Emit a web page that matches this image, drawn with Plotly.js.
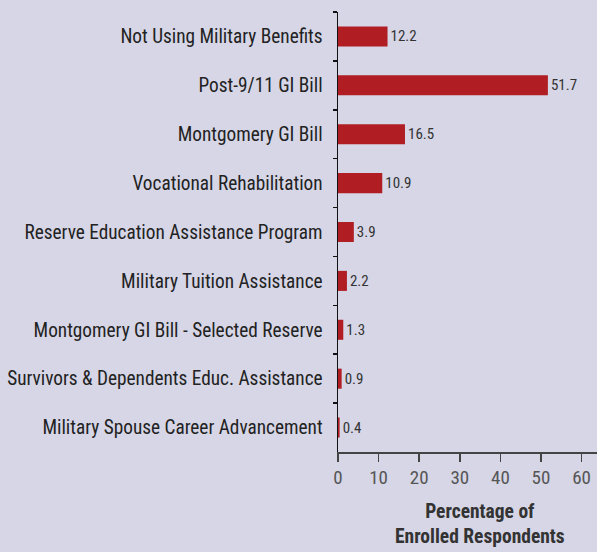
<!DOCTYPE html>
<html><head><meta charset="utf-8">
<script src="https://cdn.plot.ly/plotly-3.0.1.min.js"></script>
<style>body{margin:0;background:#d6d6e6;}</style>
</head><body><div id="chart" style="width:597px;height:552px;"></div>
<script>
const categories = [
  "Not Using Military Benefits",
  "Post-9/11 GI Bill",
  "Montgomery GI Bill",
  "Vocational Rehabilitation",
  "Reserve Education Assistance Program",
  "Military Tuition Assistance",
  "Montgomery GI Bill - Selected Reserve",
  "Survivors & Dependents Educ. Assistance",
  "Military Spouse Career Advancement"
];
const values = [12.2, 51.7, 16.5, 10.9, 3.9, 2.2, 1.3, 0.9, 0.4];
const xTicks = [0, 10, 20, 30, 40, 50, 60];

const font = '"Roboto Condensed", "Liberation Sans Narrow", "Liberation Sans", sans-serif';
const trace = {
  type: 'bar', orientation: 'h',
  y: categories, x: values,
  text: values.map(v => v.toFixed(1)),
  textposition: 'outside', cliponaxis: false,
  textfont: {family: font, size: 15, color: '#333'},
  marker: {color: '#b01e23'},
  hoverinfo: 'none'
};
const layout = {
  width: 597, height: 552,
  paper_bgcolor: '#d6d6e6', plot_bgcolor: '#d6d6e6',
  margin: {l: 338, r: 0, t: 12, b: 100},
  bargap: 0.59,
  showlegend: false,
  font: {family: font, color: '#222'},
  xaxis: {
    range: [0, 63.8], tickvals: xTicks, ticktext: xTicks.map(String),
    showgrid: false, zeroline: false, showline: true, linecolor: '#444', linewidth: 1.5,
    ticks: 'outside', ticklen: 8, tickcolor: '#444', tickwidth: 1.5,
    tickfont: {family: font, size: 19, color: '#555'}
  },
  yaxis: {
    autorange: 'reversed', type: 'category',
    showgrid: false, zeroline: false, showline: true, linecolor: '#111', linewidth: 1.5,
    ticks: 'outside', tickson: 'boundaries', ticklen: 4, tickcolor: '#111', tickwidth: 1.5,
    tickfont: {family: font, size: 19.3, color: '#222'}, ticklabelstandoff: 10
  },
  annotations: [{
    xref: 'paper', yref: 'paper', x: (480 - 338) / 259, y: -0.223, yanchor: 'bottom',
    showarrow: false, align: 'center',
    text: '<b>Percentage of<br>Enrolled Respondents</b>',
    font: {family: font, size: 19.5, color: '#333'}
  }]
};
Plotly.newPlot('chart', [trace], layout, {displayModeBar: false, staticPlot: true});
</script></body></html>
